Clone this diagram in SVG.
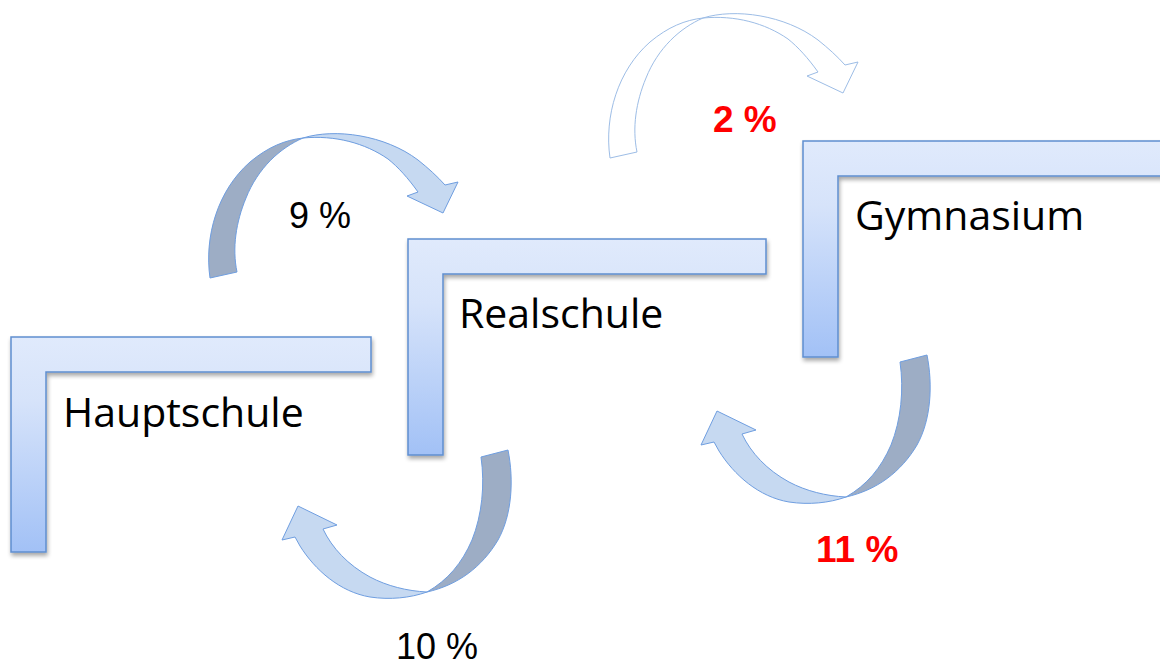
<svg xmlns="http://www.w3.org/2000/svg" width="1160" height="666" viewBox="0 0 1160 666">
<style>
.lshape{fill:url(#lg);stroke:#5f8fd0;stroke-width:1.5;filter:url(#sh)}
.lbl{font-family:"Open Sans","Liberation Sans",sans-serif;font-size:41px;fill:#000}
.pct{font-family:"Liberation Sans",Arial,sans-serif;font-size:36px;fill:#000}
.red{font-weight:bold;font-size:37px;fill:#ff0000}
.dark{fill:#9dadc5;stroke:#6f9ee0;stroke-width:1}
.light{fill:#c6d9f1;stroke:#6f9ee0;stroke-width:1}
.ghost{fill:none;stroke:#9dbde6;stroke-width:1}
</style>
<defs>
<linearGradient id="lg" x1="0" y1="0" x2="0" y2="1">
<stop offset="0" stop-color="#e0eafc"/>
<stop offset="0.3" stop-color="#d6e3fa"/>
<stop offset="1" stop-color="#a2c1f6"/>
</linearGradient>
<filter id="sh" x="-10%" y="-10%" width="130%" height="130%">
<feGaussianBlur in="SourceAlpha" stdDeviation="2"/>
<feOffset dx="1" dy="3" result="b"/>
<feComponentTransfer><feFuncA type="linear" slope="0.35"/></feComponentTransfer>
<feMerge><feMergeNode/><feMergeNode in="SourceGraphic"/></feMerge>
</filter>
</defs>
<rect width="1160" height="666" fill="#ffffff"/>

<g id="connectors">
<g id="arrow-9">
<path class="dark" d="M210,278 C204,236 218,190 250,162 C268,147 285,140 303,138 C280,148 258,168 246,198 C236,222 232,248 237,272 Z"/>
<path class="light" d="M303,138 C335,128 385,135 418,160 C428,168 437,176 445,185 L458,182 L443,213 L407,196 L418,192 C408,178 398,167 388,159 C365,143 335,135 303,138 Z"/>
</g>
<g id="arrow-2" transform="translate(400,-120)">
<path class="ghost" d="M210,278 C204,236 218,190 250,162 C268,147 285,140 303,138 C280,148 258,168 246,198 C236,222 232,248 237,272 Z"/>
<path class="ghost" d="M303,138 C335,128 385,135 418,160 C428,168 437,176 445,185 L458,182 L443,213 L407,196 L418,192 C408,178 398,167 388,159 C365,143 335,135 303,138 Z"/>
</g>
<g id="arrow-10">
<path class="dark" d="M481,457 L508,450 C514,480 512,515 498,540 C482,567 458,585 427,592 C448,580 462,563 472,540 C482,515 485,485 481,457 Z"/>
<path class="light" d="M427,592 C410,598 390,600 370,597 C340,592 315,570 300,546 L295,537 L282,540 L298,506 L337,525 L323,529 C332,548 348,565 370,577 C387,586 407,591 427,592 Z"/>
</g>
<g id="arrow-11" transform="translate(419,-95)">
<path class="dark" d="M481,457 L508,450 C514,480 512,515 498,540 C482,567 458,585 427,592 C448,580 462,563 472,540 C482,515 485,485 481,457 Z"/>
<path class="light" d="M427,592 C410,598 390,600 370,597 C340,592 315,570 300,546 L295,537 L282,540 L298,506 L337,525 L323,529 C332,548 348,565 370,577 C387,586 407,591 427,592 Z"/>
</g>
</g>

<g id="node-hauptschule">
<path class="lshape" d="M11,337 H371 V372 H46 V552 H11 Z"/>
<text class="lbl" x="63" y="427">Hauptschule</text>
</g>
<g id="node-realschule">
<path class="lshape" d="M408,239 H766 V274 H443 V455 H408 Z"/>
<text class="lbl" x="459" y="328">Realschule</text>
</g>
<g id="node-gymnasium">
<path class="lshape" d="M803,141 H1180 V176 H838 V357 H803 Z"/>
<text class="lbl" x="855" y="230">Gymnasium</text>
</g>

<g id="labels">
<text class="pct" x="289" y="228">9 %</text>
<text class="pct" x="396" y="659">10 %</text>
<text class="pct red" x="713" y="132">2 %</text>
<text class="pct red" x="816" y="562">11 %</text>
</g>
</svg>
